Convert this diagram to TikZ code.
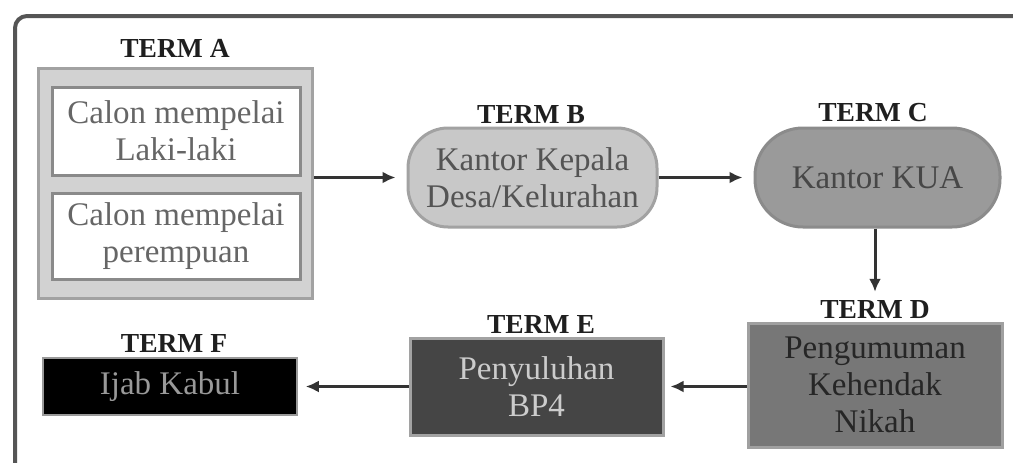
\documentclass[tikz,border=0pt]{standalone}
\usepackage{fontspec}
\setmainfont{Liberation Serif}
\usetikzlibrary{arrows.meta}
\definecolor{frameC}{HTML}{555555}
\definecolor{aFill}{HTML}{D2D2D2}
\definecolor{aLine}{HTML}{A2A2A2}
\definecolor{bFill}{HTML}{C8C8C8}
\definecolor{cFill}{HTML}{9A9A9A}
\definecolor{dFill}{HTML}{777777}
\definecolor{eFill}{HTML}{454545}
\definecolor{arrC}{HTML}{333333}
\tikzset{
  body/.style={font=\fontsize{33}{37}\selectfont, align=center, inner sep=0pt, line width=3pt},
  term/.style={font=\fontsize{27.5}{29}\selectfont\bfseries, text=black!88, inner sep=0pt},
  arr/.style={draw=arrC, line width=3pt, -{Latex[length=13pt,width=12pt]}},
}
\begin{document}
\begin{tikzpicture}[x=1pt,y=-1pt]
\clip (0,0) rectangle (1013,463);
\fill[white] (0,0) rectangle (1013,463);
\draw[frameC, line width=4pt, rounded corners=12pt] (15,16) rectangle (1040,495);
% TERM A
\node[term] (labA) at (175,48) {TERM A};
\node[body, draw=aLine, fill=aFill, minimum width=274, minimum height=230] (A) at (175,183) {};
\node[body, draw=aLine!85!black, fill=white, text=black!60, minimum width=248, minimum height=88] (A1) at (176,131) {Calon mempelai\\Laki-laki};
\node[body, draw=aLine!85!black, fill=white, text=black!60, minimum width=248, minimum height=86] (A2) at (176,236) {Calon mempelai\\perempuan};
% TERM B
\node[term] (labB) at (531,115) {TERM B};
\node[body, draw=aLine, fill=bFill, text=black!67, rounded corners=40pt, minimum width=249, minimum height=99] (B) at (532.5,177.5) {Kantor Kepala\\Desa/Kelurahan};
% TERM C
\node[term] (labC) at (873,113) {TERM C};
\node[body, draw=cFill!90!black, fill=cFill, text=black!72, rounded corners=48pt, minimum width=245, minimum height=99] (C) at (877.5,177.5) {Kantor KUA};
% TERM D
\node[term] (labD) at (875,310) {TERM D};
\node[body, draw=dFill!70!white, fill=dFill, text=black!85, minimum width=254, minimum height=124] (D) at (875,385) {Pengumuman\\Kehendak\\Nikah};
% TERM E
\node[term] (labE) at (541,324) {TERM E};
\node[body, draw=aLine, fill=eFill, text=black!20, minimum width=253, minimum height=97] (E) at (536.5,386.5) {Penyuluhan\\BP4};
% TERM F
\node[term] (labF) at (174,343) {TERM F};
\node[body, draw=black!40, line width=1.5pt, fill=black, text=black!40, minimum width=254, minimum height=57] (F) at (170,386.5) {Ijab Kabul};
% connectors
\draw[arr, shorten >=11pt] (A.east |- B.west) -- (B.west);
\draw[arr, shorten >=11pt] (B.east) -- (C.west);
\draw[arr, shorten >=9pt] (labD.north |- C.south) -- (labD.north);
\draw[arr, shorten >=6pt] (D.west |- E.east) -- (E.east);
\draw[arr, shorten >=8pt] (E.west) -- (F.east |- E.west);
\end{tikzpicture}
\end{document}
